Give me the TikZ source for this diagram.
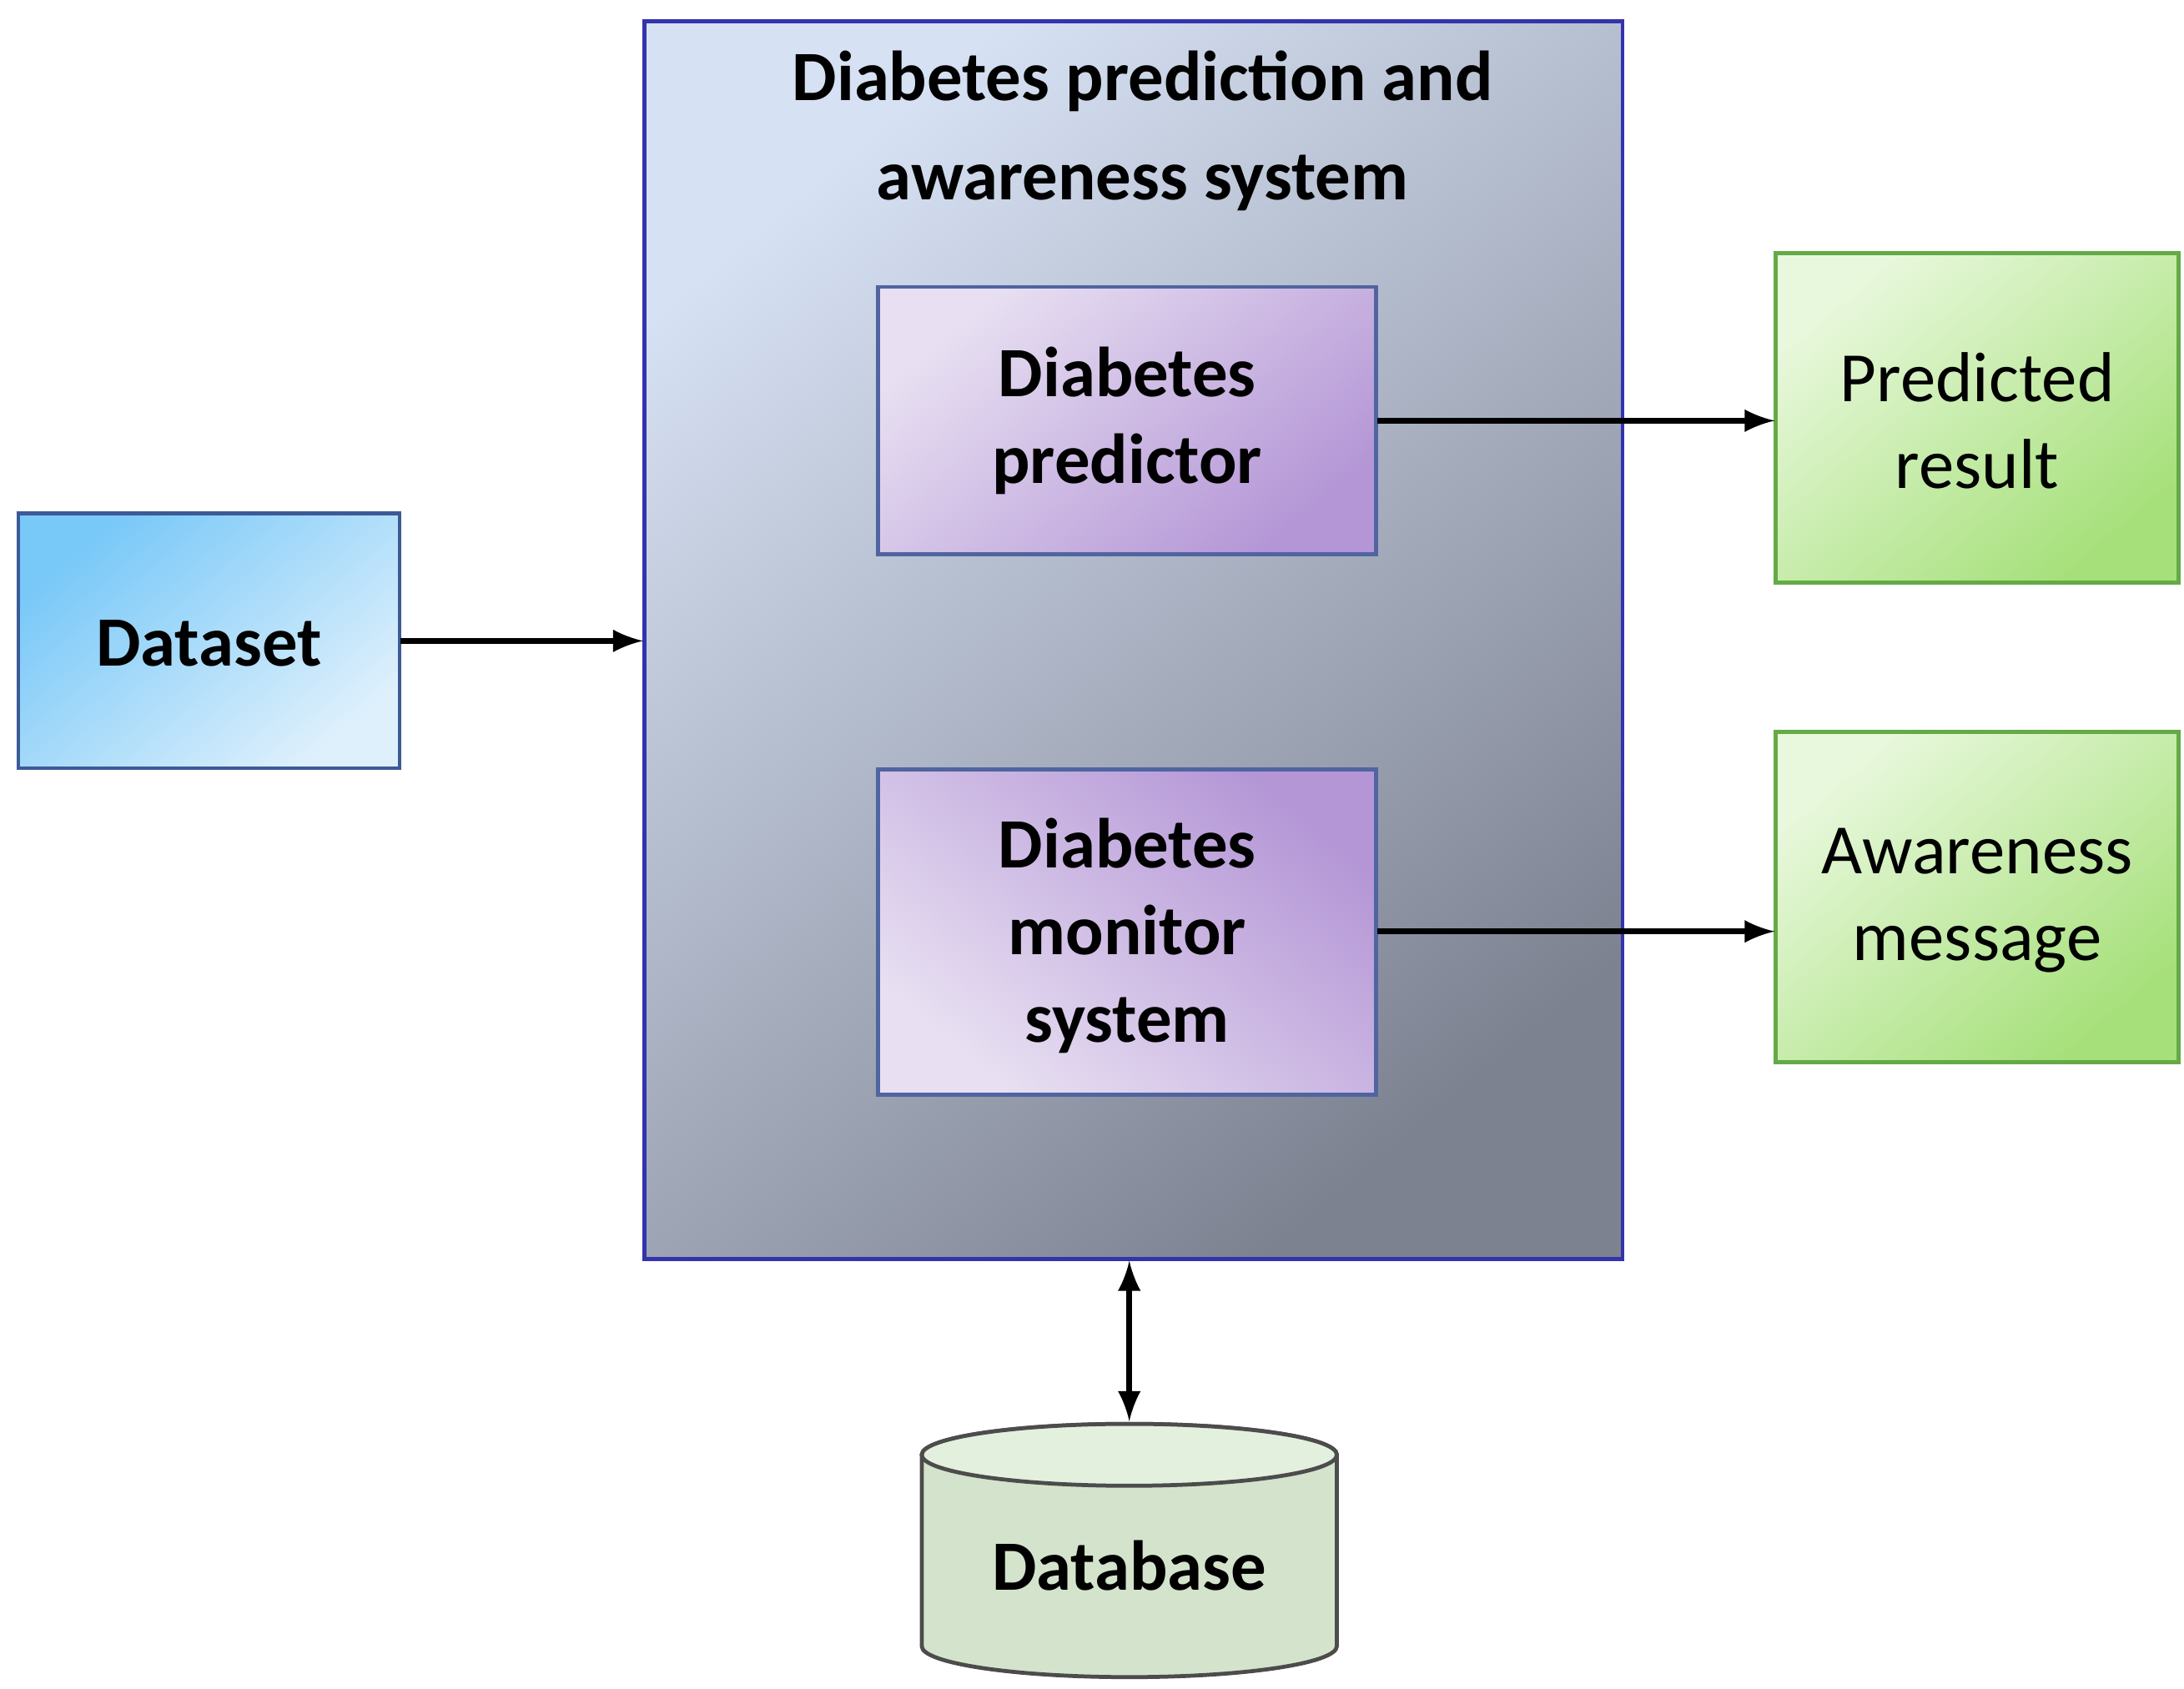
\documentclass[tikz,border=0pt]{standalone}
\usepackage{fontspec}
\setmainfont{Carlito}
\begin{document}
\begin{tikzpicture}[x=0.01cm,y=-0.01cm,
  txt/.style={font=\fontsize{14.3}{17.6}\selectfont\bfseries,align=center},
  arr/.style={-latex,line width=1.1pt}]
\useasboundingbox (0,0) rectangle (1552,1200);
\path[draw=black!20!blue!60!gray,line width=0.8pt,shading=axis,top color={rgb,255:red,214;green,225;blue,243},bottom color={rgb,255:red,125;green,130;blue,145},shading angle=40] (458,15) rectangle (1153,895);
\node[inner sep=0] (main) at (805.5,455) [minimum width=6.95cm,minimum height=8.8cm] {};
\node[txt,font=\fontsize{14.3}{20}\selectfont\bfseries] at (812,93) {Diabetes prediction and\\awareness system};
\path[draw={rgb,255:red,80;green,100;blue,160},line width=0.8pt,shading=axis,top color={rgb,255:red,232;green,224;blue,242},bottom color={rgb,255:red,180;green,150;blue,214},shading angle=40] (624,204) rectangle (978,394);
\node[inner sep=0,minimum width=3.54cm,minimum height=1.9cm] (pred) at (801,299) {};
\node[txt] at (801,299) {Diabetes\\predictor};
\path[draw={rgb,255:red,80;green,100;blue,160},line width=0.8pt,shading=axis,top color={rgb,255:red,180;green,150;blue,214},bottom color={rgb,255:red,232;green,224;blue,242},shading angle=-40] (624,547) rectangle (978,778);
\node[inner sep=0,minimum width=3.54cm,minimum height=2.31cm] (mon) at (801,662) {};
\node[txt] at (801,665) {Diabetes\\monitor\\system};
\path[draw={rgb,255:red,60;green,90;blue,150},line width=0.8pt,shading=axis,top color={rgb,255:red,120;green,200;blue,248},bottom color={rgb,255:red,222;green,240;blue,252},shading angle=40] (13,365) rectangle (284,546);
\node[inner sep=0,minimum width=2.71cm,minimum height=1.81cm] (ds) at (148.5,455.5) {};
\node[txt] at (148.5,457) {Dataset};
\path[draw={rgb,255:red,100;green,170;blue,70},line width=0.8pt,shading=axis,top color={rgb,255:red,232;green,248;blue,220},bottom color={rgb,255:red,166;green,224;blue,122},shading angle=40] (1262,180) rectangle (1548,414);
\node[inner sep=0,minimum width=2.86cm,minimum height=2.34cm] (res) at (1405,297) {};
\node[txt,font=\fontsize{14.3}{17.6}\selectfont] at (1405,299) {Predicted\\result};
\path[draw={rgb,255:red,100;green,170;blue,70},line width=0.8pt,shading=axis,top color={rgb,255:red,232;green,248;blue,220},bottom color={rgb,255:red,166;green,224;blue,122},shading angle=40] (1262,520) rectangle (1548,755);
\node[inner sep=0,minimum width=2.86cm,minimum height=2.35cm] (msg) at (1405,662) {};
\node[txt,font=\fontsize{14.3}{17.6}\selectfont] at (1405,640) {Awareness\\message};
% cylinder
\path[draw=black!70,line width=0.8pt,fill={rgb,255:red,212;green,228;blue,204}]
 (655,1034) -- (655,1170) arc[start angle=180,end angle=0,x radius=147.5,y radius=22] -- (950,1034) arc[start angle=0,end angle=-180,x radius=147.5,y radius=22] -- cycle;
\draw[black!70,line width=0.8pt,fill={rgb,255:red,228;green,240;blue,222}] (802.5,1034) ellipse[x radius=147.5,y radius=22];
\node[inner sep=0,minimum width=2.95cm,minimum height=1.96cm] (db) at (802.5,1109) {};
\node[txt] at (802.5,1113) {Database};
\draw[arr] (ds.east) -- (main.west |- ds.east);
\draw[arr] (pred.east) -- (res.west |- pred.east);
\draw[arr] (mon.east) -- (msg.west |- mon.east);
\draw[latex-latex,line width=1.1pt] (main.south -| db.north) -- (db.north);
\end{tikzpicture}
\end{document}
